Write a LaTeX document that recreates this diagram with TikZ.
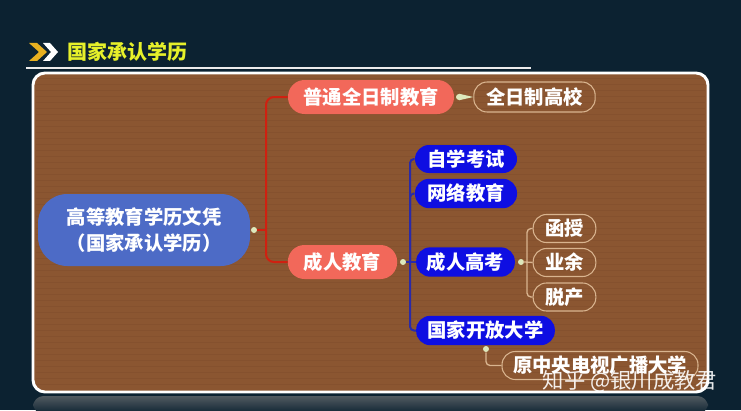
\documentclass[tikz,border=0pt]{standalone}
\usepackage{fontspec}
\setmainfont{Noto Sans CJK SC}
\usetikzlibrary{calc}

\definecolor{BgNavy}{HTML}{0C2231}
\definecolor{WoodBrown}{HTML}{8B5631}
\definecolor{WoodDark}{HTML}{7A4828}
\definecolor{TitleYellow}{HTML}{E6F02A}
\definecolor{ChevronGold}{HTML}{E8B020}
\definecolor{RootBlue}{HTML}{4D6BC6}
\definecolor{Salmon}{HTML}{F2685A}
\definecolor{DeepBlue}{HTML}{0E0EE2}
\definecolor{Tan}{HTML}{D9B48F}
\definecolor{RedLine}{HTML}{D02010}
\definecolor{NavyLine}{HTML}{2A2AA8}
\definecolor{DotGreen}{HTML}{DDE8BC}

\tikzset{
  mapnode/.style={text=white, inner sep=0pt, align=center,
    font=\fontsize{14.5}{19}\selectfont\bfseries},
  rootbox/.style={mapnode, fill=RootBlue, minimum width=159pt,
    minimum height=54pt, rounded corners=22pt},
  pinkbox/.style={mapnode, fill=Salmon, minimum height=25.5pt,
    rounded corners=12.5pt},
  bluebox/.style={mapnode, fill=DeepBlue, minimum height=22pt,
    rounded corners=10.5pt},
  tanbox/.style={mapnode, draw=Tan, line width=0.8pt,
    minimum height=21pt, rounded corners=10pt},
  knot/.style={circle, fill=DotGreen, inner sep=0pt, minimum size=4.5pt},
  redline/.style={draw=RedLine, line width=1.5pt, rounded corners=6pt},
  blueline/.style={draw=NavyLine, line width=1.5pt, rounded corners=3pt},
  tanline/.style={draw=Tan, line width=1pt, rounded corners=3pt}
}

\begin{document}
\begin{tikzpicture}[x=0.75pt,y=-0.75pt]
\useasboundingbox (0,0) rectangle (741,410);
\fill[BgNavy] (0,0) rectangle (741,410);

% title bar
\fill[ChevronGold] (29,43) -- (37,43) -- (47,52) -- (37,61) -- (29,61) -- (39,52) -- cycle;
\fill[white] (43,43) -- (50,43) -- (58,52) -- (50,61) -- (43,61) -- (51,52) -- cycle;
\node[text=TitleYellow, font=\fontsize{15}{17}\selectfont\bfseries, anchor=west]
  (title) at (63,52) {国家承认学历};
\draw[white!85!gray, line width=0.8pt] (26,68) -- (531,68);

% reflection and panel
\shade[top color=gray!60!BgNavy, bottom color=BgNavy, rounded corners=8pt]
  (33,396) rectangle (708,414);
\fill[WoodBrown, rounded corners=9pt] (33,73) rectangle (708,392);
\foreach \y in {78,84,...,388}
  \draw[WoodDark, line width=0.6pt, opacity=0.3] (36,\y) -- (705,\y);
\draw[white, line width=2.2pt, rounded corners=9pt] (33,73) rectangle (708,392);

% nodes
\node[rootbox] (root) at (144,230) {高等教育学历文凭\\（国家承认学历）};
\node[pinkbox, minimum width=124.5pt] (putong) at (371,97) {普通全日制教育};
\node[tanbox, minimum width=91pt, minimum height=22.5pt] (quanrizhi) at (534.5,97) {全日制高校};
\node[pinkbox, minimum width=82pt] (chengren) at (342.5,262) {成人教育};
\node[bluebox, minimum width=76.5pt, minimum height=21pt] (zikao) at (466,159) {自学考试};
\node[bluebox, minimum width=76.5pt] (wangluo) at (466,193.5) {网络教育};
\node[bluebox, minimum width=74pt] (gaokao) at (465.5,262) {成人高考};
\node[bluebox, minimum width=104pt] (kaifang) at (485.5,330.5) {国家开放大学};
\node[tanbox, minimum width=47pt] (hanshou) at (564.5,228.5) {函授};
\node[tanbox, minimum width=47pt] (yeyu) at (564.5,262.5) {业余};
\node[tanbox, minimum width=47pt] (tuochan) at (564.5,297) {脱产};
\node[tanbox, minimum width=147pt] (dianda) at (600,365.5) {原中央电视广播大学};

% knots and forks
\node[knot] (rootknot) at (254,230) {};
\node[knot] (putongknot) at (459,97) {};
\node[knot] (chengrenknot) at (403,262) {};
\node[knot] (gaokaoknot) at (521,262) {};
\node[knot] (kaifangknot) at (486,349) {};
\coordinate (redfork) at (266,230);
\coordinate (bluefork) at (410,262);
\coordinate (tanfork) at (527,262);

% connectors
\draw[redline] (rootknot) -- (redfork);
\draw[redline] (putong.west) -| (redfork) |- (chengren.west);
\fill[DotGreen] (putongknot.north) -- (quanrizhi.west) -- (putongknot.south) -- cycle;
\draw[blueline] (chengrenknot) -- (bluefork) -- (gaokao.west);
\draw[blueline] (zikao.west) -| (bluefork) |- (kaifang.west);
\draw[blueline] (wangluo.west) -| (bluefork);
\draw[tanline] (gaokaoknot) -- (tanfork) -- (yeyu.west);
\draw[tanline] (hanshou.west) -| (tanfork) |- (tuochan.west);
\draw[tanline] (kaifangknot) |- (dianda.west);

% watermark
\node[text=white, opacity=0.9, font=\fontsize{16}{18}\selectfont]
  (watermark) at (630,381) {知乎 @银川成教君};
\end{tikzpicture}
\end{document}
